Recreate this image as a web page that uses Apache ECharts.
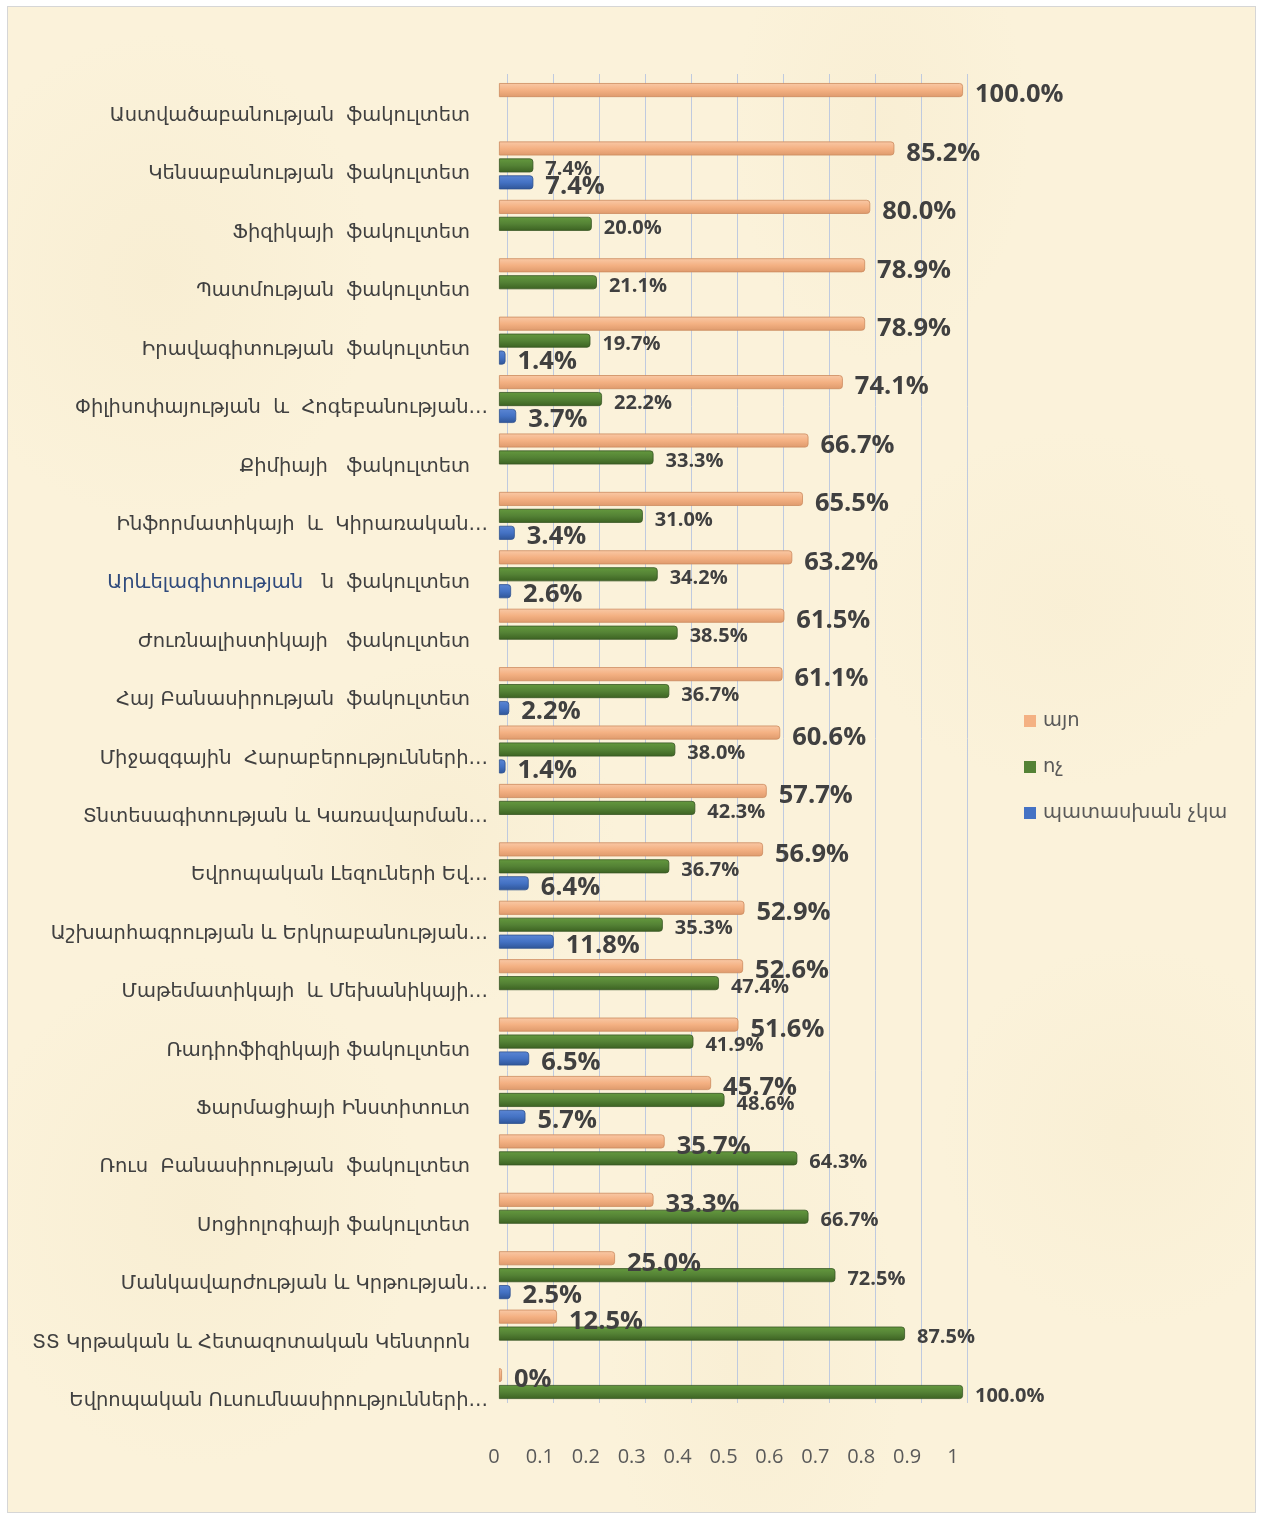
<!DOCTYPE html>
<html>
<head>
<meta charset="utf-8">
<script src="https://cdn.jsdelivr.net/npm/echarts@6/dist/echarts.min.js"></script>
<style>
html,body{margin:0;padding:0;background:#fff;}
#frame{position:absolute;left:7px;top:6px;width:1247px;height:1505px;border:1px solid #D6D6D6;
background-color:#FBF2DA;
background-image:
 radial-gradient(ellipse at 12% 18%, rgba(240,226,190,0.25), rgba(0,0,0,0) 14%),
 radial-gradient(ellipse at 70% 8%, rgba(242,228,194,0.25), rgba(0,0,0,0) 12%),
 radial-gradient(ellipse at 35% 55%, rgba(240,226,190,0.25), rgba(0,0,0,0) 15%),
 radial-gradient(ellipse at 85% 40%, rgba(242,228,194,0.2), rgba(0,0,0,0) 14%),
 radial-gradient(ellipse at 15% 80%, rgba(240,226,190,0.25), rgba(0,0,0,0) 15%),
 radial-gradient(ellipse at 60% 90%, rgba(242,228,194,0.25), rgba(0,0,0,0) 14%),
 radial-gradient(ellipse at 90% 75%, rgba(240,226,190,0.2), rgba(0,0,0,0) 12%);
}
#chart{position:absolute;left:0;top:0;width:1262px;height:1515px;}
</style>
</head>
<body>
<div id="frame"></div>
<div id="chart"></div>
<script>
const categories = [
  "Աստվածաբանության  ֆակուլտետ",
  "Կենսաբանության  ֆակուլտետ",
  "Ֆիզիկայի  ֆակուլտետ",
  "Պատմության  ֆակուլտետ",
  "Իրավագիտության  ֆակուլտետ",
  "Փիլիսոփայության  և  Հոգեբանության…",
  "Քիմիայի   ֆակուլտետ",
  "Ինֆորմատիկայի  և  Կիրառական…",
  "Արևելագիտության   ն  ֆակուլտետ",
  "Ժուռնալիստիկայի   ֆակուլտետ",
  "Հայ Բանասիրության  ֆակուլտետ",
  "Միջազգային  Հարաբերությունների…",
  "Տնտեսագիտության և Կառավարման…",
  "Եվրոպական Լեզուների Եվ…",
  "Աշխարհագրության և Երկրաբանության…",
  "Մաթեմատիկայի  և Մեխանիկայի…",
  "Ռադիոֆիզիկայի ֆակուլտետ",
  "Ֆարմացիայի Ինստիտուտ",
  "Ռուս  Բանասիրության  ֆակուլտետ",
  "Սոցիոլոգիայի ֆակուլտետ",
  "Մանկավարժության և Կրթության…",
  "ՏՏ Կրթական և Հետազոտական Կենտրոն",
  "Եվրոպական Ուսումնասիրությունների…"
];
const seriesNames = ["այո", "ոչ", "պատասխան չկա"];
const yesValues = [1.000, 0.852, 0.800, 0.789, 0.789, 0.741, 0.667, 0.655, 0.632, 0.615, 0.611, 0.606, 0.577, 0.569, 0.529, 0.526, 0.516, 0.457, 0.357, 0.333, 0.250, 0.125, 0];
const noValues = [null, 0.074, 0.200, 0.211, 0.197, 0.222, 0.333, 0.310, 0.342, 0.385, 0.367, 0.380, 0.423, 0.367, 0.353, 0.474, 0.419, 0.486, 0.643, 0.667, 0.725, 0.875, 1.000];
const noAnswerValues = [null, 0.074, null, null, 0.014, 0.037, null, 0.034, 0.026, null, 0.022, 0.014, null, 0.064, 0.118, null, 0.065, 0.057, null, null, 0.025, null, null];
const xTickLabels = ["0", "0.1", "0.2", "0.3", "0.4", "0.5", "0.6", "0.7", "0.8", "0.9", "1"];
const seriesColors = ["#F4B183", "#548235", "#4472C4"];

const chart = echarts.init(document.getElementById('chart'), null, {renderer: 'canvas'});

function grad(light, mid, dark) {
  return new echarts.graphic.LinearGradient(0, 0, 0, 1, [
    {offset: 0, color: light}, {offset: 0.5, color: mid}, {offset: 1, color: dark}
  ]);
}
function pct(p) {
  const v = p.value;
  if (v === null || v === undefined || v === '-') return '';
  if (v === 0) return '0%';
  return (v * 100).toFixed(1) + '%';
}

const numFont = '"Open Sans", "Liberation Sans", sans-serif';
const armFont = '"DejaVu Sans", sans-serif';
const catSize = 19.5;

const option = {
  backgroundColor: 'transparent',
  animation: false,
  legend: {
    orient: 'vertical',
    left: 1024,
    top: 711,
    padding: 0,
    itemWidth: 12,
    itemHeight: 12,
    itemGap: 26,
    icon: 'rect',
    textStyle: {fontFamily: armFont, fontSize: 19.5, color: '#595959', padding: [0, 0, 0, 2]},
    data: seriesNames.map((n, i) => ({name: n, itemStyle: {color: seriesColors[i], borderWidth: 0}}))
  },
  grid: [
    {left: 499, right: 299, top: 77.8, bottom: 93.8, containLabel: false},
    {left: 507, right: 295, top: 74, bottom: 112, containLabel: false},
    {left: 494, right: 309, top: 77.8, bottom: 93.8, containLabel: false}
  ],
  xAxis: [
    {gridIndex: 0, type: 'value', min: 0, max: 1, interval: 0.1, show: false},
    {gridIndex: 1, type: 'value', min: 0, max: 1, interval: 0.1,
     axisLine: {show: false}, axisTick: {show: false}, axisLabel: {show: false},
     splitLine: {show: true, lineStyle: {color: '#BFCADF', width: 1}}},
    {gridIndex: 2, type: 'value', min: 0, max: 1, interval: 0.1,
     axisLine: {show: false}, axisTick: {show: false}, splitLine: {show: false},
     axisLabel: {margin: 26, fontFamily: numFont, fontSize: 20, color: '#595959',
       formatter: (v) => xTickLabels[Math.round(v * 10)]}}
  ],
  yAxis: [
    {gridIndex: 0, type: 'category', data: categories, inverse: true,
     axisLine: {show: false}, axisTick: {show: false}, splitLine: {show: false},
     axisLabel: {
       margin: 11,
       formatter: function (v) {
         if (v.indexOf('Արևելագիտության') === 0) {
           return '{blue|Արևելագիտության}{b|' + v.slice('Արևելագիտության'.length) + '}';
         }
         return v.endsWith('…') ? '{a|' + v + '}' : '{b|' + v + '}';
       },
       rich: {
         a: {fontFamily: armFont, fontSize: catSize, color: '#404040', padding: [18, 0, 0, 0]},
         b: {fontFamily: armFont, fontSize: catSize, color: '#404040', padding: [18, 18, 0, 0]},
         blue: {fontFamily: armFont, fontSize: catSize, color: '#2F4A7C', padding: [18, 0, 0, 0]}
       }
     }},
    {gridIndex: 1, type: 'category', data: categories, show: false},
    {gridIndex: 2, type: 'category', data: categories, show: false}
  ],
  series: [
    {
      name: seriesNames[0], type: 'bar', xAxisIndex: 0, yAxisIndex: 0,
      data: yesValues, barWidth: 14, barGap: '21%', barMinHeight: 3,
      itemStyle: {color: grad('#F9C9A6', '#F4B183', '#DE9A6C'), borderColor: '#CC8A5E', borderWidth: 0.8, borderRadius: [0, 3, 3, 0]},
      label: {show: true, position: 'right', distance: 12, offset: [0, 5], formatter: pct,
        fontFamily: numFont, fontWeight: 'bold', fontSize: 25.5, color: '#404040'}
    },
    {
      name: seriesNames[1], type: 'bar', xAxisIndex: 0, yAxisIndex: 0,
      data: noValues, barWidth: 14, barGap: '21%',
      itemStyle: {color: grad('#64993E', '#548235', '#3C6222'), borderColor: '#375623', borderWidth: 0.8, borderRadius: [0, 3, 3, 0]},
      label: {show: true, position: 'right', distance: 12, offset: [0, 4], formatter: pct,
        fontFamily: numFont, fontWeight: 'bold', fontSize: 20, color: '#404040'}
    },
    {
      name: seriesNames[2], type: 'bar', xAxisIndex: 0, yAxisIndex: 0,
      data: noAnswerValues, barWidth: 14, barGap: '21%',
      itemStyle: {color: grad('#5B86D4', '#4472C4', '#2F5597'), borderColor: '#2F528F', borderWidth: 0.8, borderRadius: [0, 3, 3, 0]},
      label: {show: true, position: 'right', distance: 12, offset: [0, 4], formatter: pct,
        fontFamily: numFont, fontWeight: 'bold', fontSize: 25.5, color: '#404040'}
    }
  ]
};
chart.setOption(option);
</script>
</body>
</html>
